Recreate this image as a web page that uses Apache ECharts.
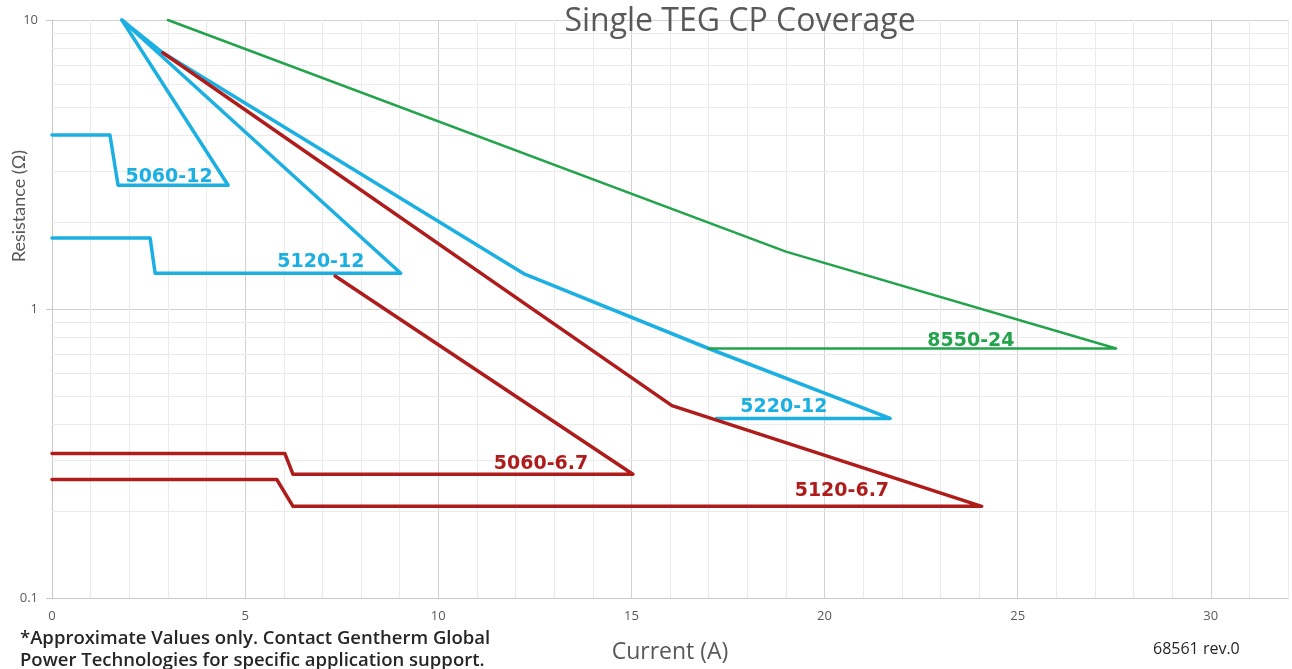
<!DOCTYPE html>
<html>
<head>
<meta charset="utf-8">
<script src="https://cdn.jsdelivr.net/npm/echarts@6/dist/echarts.min.js"></script>
<style>
  html, body { margin: 0; padding: 0; background: #fff; }
  #coverageChart { width: 1292px; height: 669px; }
</style>
</head>
<body>
<div id="coverageChart"></div>
<script>
// outlines of each module's coverage region, [current A, resistance ohm]
var m5060_12 = [[0, 4.0], [1.5, 4.0], [1.71, 2.68], [4.56, 2.68], [1.81, 10]];
var m5120_12 = [[0, 1.76], [2.54, 1.76], [2.67, 1.33], [9.03, 1.33], [1.81, 10]];
var m5220_12 = [[17.2, 0.418], [21.7, 0.418], [17.0, 0.73], [12.24, 1.32], [2.87, 7.7], [1.81, 10]];
var m8550_24 = [[17.0, 0.73], [27.55, 0.73], [19.0, 1.58], [3.0, 10]];
var m5060_67 = [[0, 0.316], [6.03, 0.316], [6.24, 0.268], [15.04, 0.268], [7.33, 1.30]];
var m5120_67 = [[0, 0.257], [5.82, 0.257], [6.24, 0.2076], [24.07, 0.2076], [16.05, 0.463], [2.87, 7.7]];

// where each model name sits
var labelNames = ['5060-12', '5120-12', '5220-12', '8550-24', '5060-6.7', '5120-6.7'];
var labelPos = [[3.03, 2.87], [6.96, 1.45], [18.95, 0.459], [23.79, 0.776], [12.66, 0.29], [20.45, 0.234]];

// log minor gridlines
var minorR = [0.2, 0.3, 0.4, 0.5, 0.6, 0.7, 0.8, 0.9, 2, 3, 4, 5, 6, 7, 8, 9];

var blue = '#1cb0e2';
var red = '#ae1c1c';
var green = '#23a34c';

function outline(name, data, color, width) {
  return {
    name: name,
    type: 'line',
    data: data,
    symbol: 'none',
    z: 3,
    lineStyle: { color: color, width: width, join: 'round', cap: 'round' },
    itemStyle: { color: color }
  };
}

function tag(i, color) {
  return {
    coord: labelPos[i],
    symbolSize: 0,
    label: {
      show: true,
      position: 'inside',
      formatter: labelNames[i],
      color: color,
      fontSize: 19,
      fontWeight: 'bold',
      fontFamily: 'DejaVu Sans'
    }
  };
}

var chart = echarts.init(document.getElementById('coverageChart'));
var option = {
  animation: false,
  grid: { left: 52, right: 4, top: 20, bottom: 69 },
  xAxis: {
    type: 'value',
    min: 0,
    max: 32,
    interval: 1,
    name: 'Current (A)',
    nameLocation: 'middle',
    nameGap: 43,
    nameTextStyle: { fontFamily: 'Open Sans', fontSize: 23, color: '#595959' },
    axisLine: { lineStyle: { color: '#c8c8c8' } },
    axisTick: { show: false },
    axisLabel: {
      margin: 12,
      fontFamily: 'Open Sans',
      fontSize: 13,
      color: '#595959',
      formatter: function (v) { return (v % 5 === 0 && v <= 30) ? String(v) : ''; }
    },
    splitLine: { lineStyle: { color: ['#d2d2d2', '#ebebeb', '#ebebeb', '#ebebeb', '#ebebeb'] } }
  },
  yAxis: {
    type: 'log',
    logBase: 10,
    min: 0.1,
    max: 10,
    axisLine: { show: true, lineStyle: { color: '#c8c8c8' } },
    axisTick: { show: true, length: 6, lineStyle: { color: '#c8c8c8' } },
    axisLabel: { margin: 14, fontFamily: 'Open Sans', fontSize: 13, color: '#595959' },
    splitLine: { lineStyle: { color: '#d2d2d2' } }
  },
  graphic: [
    {
      type: 'text',
      x: 740,
      y: 22,
      z: 10,
      style: {
        text: 'Single TEG CP Coverage',
        font: '32px "Open Sans"',
        fill: '#595959',
        align: 'center',
        verticalAlign: 'middle'
      }
    },
    {
      type: 'text',
      left: 10,
      top: 150,
      rotation: Math.PI / 2,
      style: { text: 'Resistance (Ω)', font: '18px Lato', fill: '#595959' }
    },
    {
      type: 'text',
      left: 20,
      top: 628,
      style: {
        text: '*Approximate Values only. Contact Gentherm Global\nPower Technologies for specific application support.',
        font: '600 18.5px "Open Sans"',
        lineHeight: 22,
        fill: '#262626'
      }
    },
    {
      type: 'text',
      left: 1153,
      top: 641,
      style: { text: '68561 rev.0', font: '16px "Open Sans"', fill: '#262626' }
    }
  ],
  series: [
    {
      name: 'minor grid',
      type: 'line',
      data: [],
      z: 1,
      silent: true,
      markLine: {
        silent: true,
        z: 1,
        symbol: 'none',
        label: { show: false },
        lineStyle: { color: '#ebebeb', type: 'solid', width: 1 },
        data: minorR.map(function (r) { return { yAxis: r }; })
      }
    },
    outline('5060-12', m5060_12, blue, 3.5),
    outline('5120-12', m5120_12, blue, 3.5),
    outline('5220-12', m5220_12, blue, 3.5),
    outline('8550-24', m8550_24, green, 2.5),
    outline('5060-6.7', m5060_67, red, 3.5),
    outline('5120-6.7', m5120_67, red, 3.5),
    {
      name: 'labels',
      type: 'scatter',
      data: [],
      z: 4,
      markPoint: {
        symbol: 'circle',
        symbolSize: 0,
        data: [tag(0, blue), tag(1, blue), tag(2, blue), tag(3, green), tag(4, red), tag(5, red)]
      }
    }
  ]
};
chart.setOption(option);
</script>
</body>
</html>
